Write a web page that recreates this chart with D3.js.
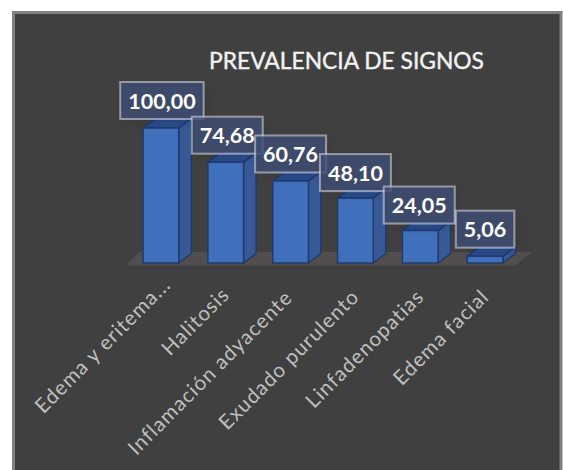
<!DOCTYPE html>
<html>
<head>
<meta charset="utf-8">
<script src="https://cdnjs.cloudflare.com/ajax/libs/d3/7.8.5/d3.min.js"></script>
<style>
  html, body { margin: 0; padding: 0; background: #fff; }
  svg { display: block; }
</style>
</head>
<body>
<svg id="chart" width="563" height="470"></svg>
<script>
// Prevalence of clinical signs, in percent
const categories = ["Edema y eritema...", "Halitosis", "Inflamación adyacente", "Exudado purulento", "Linfadenopatias", "Edema facial"];
const values = [100.00, 74.68, 60.76, 48.10, 24.05, 5.06];
const valueLabels = ["100,00", "74,68", "60,76", "48,10", "24,05", "5,06"];
const chartTitle = "PREVALENCIA DE SIGNOS";

const svg = d3.select("#chart");
const FONT = "Lato, 'Open Sans', sans-serif";

// Panel
svg.append("rect").attr("x", 13.5).attr("y", 12.5).attr("width", 547.5).attr("height", 460)
  .attr("fill", "#404040").attr("stroke", "#808080").attr("stroke-width", 3);

const x = d3.scaleBand().domain(categories).range([128.5, 517.5]).paddingInner(0.45).paddingOuter(0.225);
const y = d3.scaleLinear().domain([0, 100]).range([263, 128]);
const depthX = 12.5, depthY = -9.5;

// Soft shadow under the value boxes
const defs = svg.append("defs");
defs.append("filter").attr("id", "boxShadow")
  .attr("x", "-30%").attr("y", "-30%").attr("width", "170%").attr("height", "170%")
  .append("feDropShadow").attr("dx", 5).attr("dy", 5).attr("stdDeviation", 5)
  .attr("flood-color", "#000").attr("flood-opacity", 0.1);

// Floor of the 3D plot
svg.append("polygon")
  .attr("points", [[126, 265.5], [515, 265.5], [532, 252], [139, 252]].join(" "))
  .attr("fill", "#504e4e");

// Bars: right side, top, then front face
const bars = svg.append("g").selectAll("g").data(categories).join("g");
const edge = "#20396f";

bars.append("polygon")
  .attr("points", (c, i) => {
    const r = x(c) + x.bandwidth();
    return [[r, y(values[i])], [r + depthX, y(values[i]) + depthY], [r + depthX, y(0) + depthY], [r, y(0)]].join(" ");
  })
  .attr("fill", "#375a96").attr("stroke", edge).attr("stroke-width", 1.4).attr("stroke-linejoin", "round");

bars.append("polygon")
  .attr("points", (c, i) => {
    const l = x(c), r = l + x.bandwidth(), t = y(values[i]);
    return [[l, t], [l + depthX, t + depthY], [r + depthX, t + depthY], [r, t]].join(" ");
  })
  .attr("fill", "#2a4c8c").attr("stroke", edge).attr("stroke-width", 1.4).attr("stroke-linejoin", "round");

bars.append("rect")
  .attr("x", c => x(c))
  .attr("y", (c, i) => y(values[i]))
  .attr("width", x.bandwidth())
  .attr("height", (c, i) => y(0) - y(values[i]))
  .attr("fill", "#4070bb").attr("stroke", edge).attr("stroke-width", 1.4);

// Value boxes, translucent so that overlapping frames stay visible
const boxes = svg.append("g").selectAll("g").data(categories).join("g");
const labelOffsetX = [1, 1.5, 0, 0, -1, 0];
const labelOffsetY = [-27.5, -27, -27, -25.5, -25.5, -27];

boxes.each(function (c, i) {
  const g = d3.select(this);
  const cx = x(c) + x.bandwidth() / 2 + labelOffsetX[i];
  const cy = y(values[i]) + labelOffsetY[i];
  const text = g.append("text")
    .attr("x", cx).attr("y", cy + 8)
    .attr("text-anchor", "middle")
    .attr("font-family", FONT).attr("font-weight", 700).attr("font-size", 21.5)
    .attr("fill", "#fff").text(valueLabels[i]);
  const b = text.node().getBBox();
  const padX = 8;
  g.insert("rect", "text")
    .attr("x", b.x - padX).attr("y", cy - 18.5)
    .attr("width", b.width + padX * 2).attr("height", 37)
    .attr("fill", "#3d4e74").attr("fill-opacity", 0.8)
    .attr("stroke", "#fff").attr("stroke-opacity", 0.45).attr("stroke-width", 2)
    .attr("filter", "url(#boxShadow)");
});

// Category labels, rotated and anchored at their end
const labelNudgeX = [6, 0, -2, 0, 0, 0];
const labelNudgeY = [-10, 0, 3, 2, 2, 2];
svg.append("g").selectAll("text").data(categories).join("text")
  .attr("transform", (c, i) => `translate(${x(c) + x.bandwidth() / 2 + 5 + labelNudgeX[i]},${296 + labelNudgeY[i]}) rotate(-45)`)
  .attr("text-anchor", "end")
  .attr("font-family", FONT).attr("font-size", 20.5).attr("letter-spacing", 1)
  .attr("fill", "#bfbfbf")
  .text(c => c);

// Title
svg.append("text")
  .attr("x", 346.5).attr("y", 69)
  .attr("text-anchor", "middle")
  .attr("font-family", FONT).attr("font-size", 22.8)
  .attr("fill", "#f2f2f2").attr("stroke", "#f2f2f2").attr("stroke-width", 0.4)
  .text(chartTitle);
</script>
</body>
</html>
